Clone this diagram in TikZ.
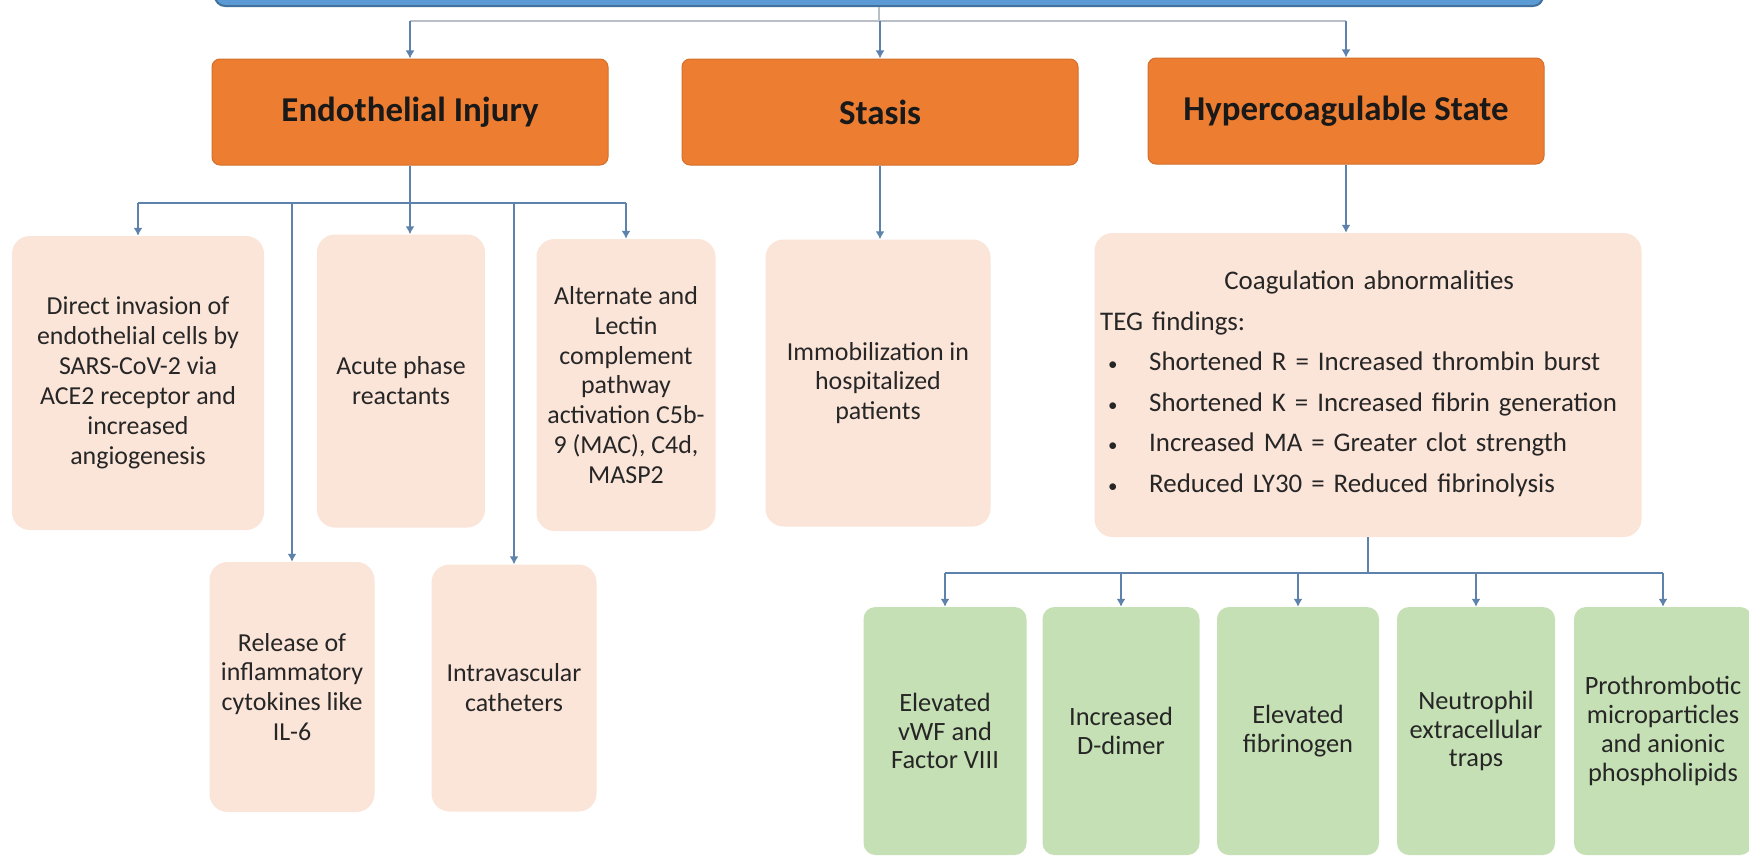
\documentclass[tikz,border=0pt]{standalone}
\usepackage{fontspec}
\setmainfont{Carlito}
\usepackage{xcolor}
\usepackage{tikz}
\usetikzlibrary{arrows.meta}
\usetikzlibrary{positioning}

\newcommand{\tegitem}{\hspace*{8bp}\makebox[41bp][l]{\fontsize{19}{19}\selectfont\textbullet}}

\begin{document}
\begin{tikzpicture}[x=1bp,y=-1bp]
              \definecolor{topblue}{HTML}{5B9BD5}
              \definecolor{topedge}{HTML}{41719C}
              \definecolor{causecol}{HTML}{ED7D31}
              \definecolor{causeedge}{HTML}{D2702C}
              \definecolor{peachcol}{HTML}{FBE4D8}
              \definecolor{greencol}{HTML}{C5E0B4}
              \definecolor{linkcol}{HTML}{5D82AB}
              \definecolor{buscol}{HTML}{B9BEC7}
              \definecolor{txtcol}{HTML}{262626}
              \tikzset{>={Latex[length=8bp,width=9bp]}} % small blue heads
              \tikzstyle{box}=[rectangle,align=center,inner sep=0pt,text=txtcol]
              \tikzstyle{cause}=[box,fill=causecol,draw=causeedge,line width=1bp,rounded corners=8bp,
                minimum width=396bp,minimum height=106bp,text=black!90,font=\fontsize{35}{40}\selectfont\bfseries]
              \tikzstyle{factor}=[box,fill=peachcol,rounded corners=18bp,font=\fontsize{26}{30}\selectfont]
              \tikzstyle{finding}=[box,fill=greencol,rounded corners=12bp,minimum height=248bp,
                font=\fontsize{26.5}{29}\selectfont]
              \tikzstyle{coag text}=[text width=545bp,align=left,inner sep=0pt,text=txtcol,
                font=\fontsize{27}{40.6}\selectfont]
              \tikzstyle{link}=[linkcol,line width=2.2bp]
              \tikzstyle{arrow}=[link,->]

              % page
              \fill[white] (0,0) rectangle (1749,858);
              \useasboundingbox (0,0) rectangle (1749,858);

              % top bar (cut by the page edge)
              \node[draw=topedge,fill=topblue,line width=2bp,rounded corners=10bp,
                minimum width=1328bp,minimum height=50bp] (top) at (879,-19) {};

              % Virchow triad
              \node[cause] (endo) at (410,112) {Endothelial Injury};
              \node[cause] (stasis) at (880,112) {Stasis};
              \node[cause] (hyper) at (1346,111) {Hypercoagulable State};

              \coordinate (topbus) at (0,21);
              \draw[buscol,line width=2.2bp] (top.south) -- (top.south |- topbus);
              \draw[buscol,line width=2.2bp] (endo.north |- topbus) -- (hyper.north |- topbus);
              \foreach \n in {endo,stasis,hyper}{
                  \draw[arrow] (\n.north |- topbus) -- (\n.north);
                }

              % Endothelial injury
              \node[factor,minimum width=252bp,minimum height=294bp] (invasion) at (138,383)
                {Direct invasion of\\endothelial cells by\\SARS-CoV-2 via\\ACE2 receptor and\\increased\\angiogenesis};
              \node[factor,minimum width=168bp,minimum height=293bp] (acute) at (401,381)
                {Acute phase\\reactants};
              \node[factor,minimum width=179bp,minimum height=292bp] (complement) at (626,385)
                {Alternate and\\Lectin\\complement\\pathway\\activation C5b-\\9 (MAC), C4d,\\MASP2};
              \node[factor,minimum width=165bp,minimum height=250bp] (cytokines) at (292,687)
                {Release of\\inflammatory\\cytokines like\\IL-6};
              \node[factor,minimum width=165bp,minimum height=247bp] (catheters) at (514,688)
                {Intravascular\\catheters};

              \coordinate (endobus) at (0,203);
              \draw[link] (endo.south) -- (endo.south |- endobus);
              \draw[link] (invasion.north |- endobus) -- (complement.north |- endobus);
              \draw[arrow] (endo.south |- endobus) -- (endo.south |- acute.north);
              \foreach \n in {invasion,complement,cytokines,catheters}{
                  \draw[arrow] (\n.north |- endobus) -- (\n.north);
                }

              % Stasis
              \node[factor,minimum width=225bp,minimum height=287bp] (immob) at (878,383)
                {Immobilization in\\hospitalized\\patients};
              \draw[arrow] (stasis.south) -- (stasis.south |- immob.north);

              % Hypercoagulable state
              \node[factor,minimum width=547bp,minimum height=304bp] (coag) at (1368,385) {};
              \node[coag text,anchor=north west] (teg) at (1100,271)
                {\makebox[538bp]{Coagulation abnormalities}\\
                 TEG findings:\\
                 \tegitem Shortened R = Increased thrombin burst\\
                 \tegitem Shortened K = Increased fibrin generation\\
                 \tegitem Increased MA = Greater clot strength\\
                 \tegitem Reduced LY30 = Reduced fibrinolysis};
              \draw[arrow] (hyper.south) -- (hyper.south |- coag.north);

              \node[finding,minimum width=163bp] (vwf) at (945,731) {Elevated\\vWF and\\Factor VIII};
              \node[finding,minimum width=157bp] (ddimer) at (1121,731) {Increased\\D-dimer};
              \node[finding,minimum width=162bp] (fibrinogen) at (1298,731) {Elevated\\fibrinogen};
              \node[finding,minimum width=158bp] (nets) at (1476,731) {Neutrophil\\extracellular\\traps};
              \node[finding,minimum width=178bp] (particles) at (1663,731)
                {Prothrombotic\\microparticles\\and anionic\\phospholipids};

              \coordinate (coagbus) at (0,573);
              \draw[link] (coag.south) -- (coag.south |- coagbus);
              \draw[link] (vwf.north |- coagbus) -- (particles.north |- coagbus);
              \foreach \n in {vwf,ddimer,fibrinogen,nets,particles}{
                  \draw[arrow] (\n.north |- coagbus) -- (\n.north);
                }

            \end{tikzpicture}
\end{document}
